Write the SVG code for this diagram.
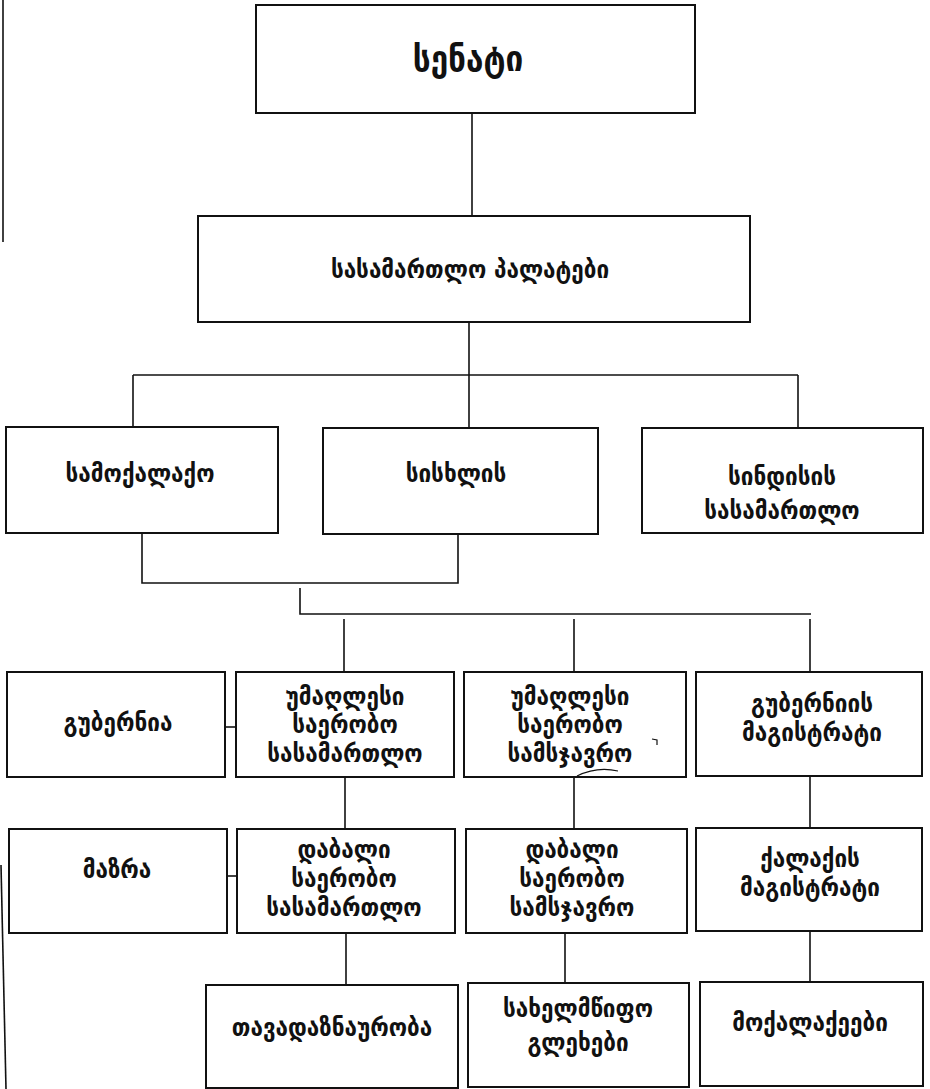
<svg xmlns="http://www.w3.org/2000/svg" width="930" height="1089" viewBox="0 0 930 1089">
<style>
.box{fill:#fff;stroke:#111;stroke-width:2}
.con{fill:none;stroke:#111;stroke-width:1.6}
.mark{fill:none;stroke:#111;stroke-width:1.2}
text{font-family:"DejaVu Sans Condensed","DejaVu Sans",sans-serif;fill:#111;text-anchor:middle;font-weight:bold}
.t1{font-size:35px}
.t2{font-size:25px}
.t3{font-size:25px}
</style>
<rect width="930" height="1089" fill="#fff"/>
<g id="page-edge" class="con">
<line x1="3" y1="0" x2="3" y2="242"/>
<line x1="1" y1="865" x2="6" y2="1089"/>
</g>
<g id="connectors" class="con">
<line x1="472" y1="113" x2="472" y2="216"/>
<line x1="469" y1="322" x2="469" y2="375"/>
<line x1="133" y1="375" x2="798" y2="375"/>
<line x1="133" y1="375" x2="133" y2="427"/>
<line x1="469" y1="375" x2="469" y2="428"/>
<line x1="798" y1="375" x2="798" y2="428"/>
<polyline points="142,533 142,583 458,583 458,534"/>
<polyline points="300,588 300,614 811,614"/>
<line x1="344" y1="619" x2="344" y2="672"/>
<line x1="574" y1="619" x2="574" y2="672"/>
<line x1="810" y1="619" x2="810" y2="672"/>
<line x1="225" y1="727" x2="236" y2="727"/>
<line x1="345" y1="777" x2="345" y2="829"/>
<line x1="574" y1="777" x2="574" y2="829"/>
<line x1="810" y1="776" x2="810" y2="828"/>
<line x1="227" y1="876" x2="237" y2="876"/>
<line x1="346" y1="933" x2="346" y2="985"/>
<line x1="565" y1="933" x2="565" y2="983"/>
<line x1="810" y1="931" x2="810" y2="982"/>
</g>
<g id="n-senati"><rect class="box" x="256" y="5" width="439" height="108"/><text class="t1" x="468" y="71">სენატი</text></g>
<g id="n-palatebi"><rect class="box" x="198" y="216" width="552" height="106"/><text class="t2" x="470" y="278">სასამართლო პალატები</text></g>
<g id="n-samoqalaqo"><rect class="box" x="6" y="427" width="272" height="106"/><text class="t3" x="140" y="482">სამოქალაქო</text></g>
<g id="n-sisxlis"><rect class="box" x="323" y="428" width="275" height="106"/><text class="t3" x="456" y="482">სისხლის</text></g>
<g id="n-sindisis"><rect class="box" x="642" y="428" width="281" height="105"/><text class="t3" x="782" y="485">სინდისის</text><text class="t3" x="782" y="519">სასამართლო</text></g>
<g id="n-gubernia"><rect class="box" x="7" y="672" width="218" height="105"/><text class="t3" x="118" y="731">გუბერნია</text></g>
<g id="n-umaglesi-sasamartlo"><rect class="box" x="236" y="672" width="218" height="105"/><text class="t3" x="345" y="705">უმაღლესი</text><text class="t3" x="345" y="733">საერობო</text><text class="t3" x="345" y="762">სასამართლო</text></g>
<g id="n-umaglesi-samsjavro"><rect class="box" x="464" y="672" width="222" height="105"/><text class="t3" x="570" y="705">უმაღლესი</text><text class="t3" x="570" y="733">საერობო</text><text class="t3" x="570" y="762">სამსჯავრო</text>
<path class="mark" d="M577,776 Q597,766 618,771"/><path class="mark" d="M652,739 L657,740 L657,745"/></g>
<g id="n-gubernii-magistrati"><rect class="box" x="696" y="672" width="226" height="104"/><text class="t3" x="812" y="712">გუბერნიის</text><text class="t3" x="812" y="741">მაგისტრატი</text></g>
<g id="n-mazra"><rect class="box" x="9" y="829" width="218" height="104"/><text class="t3" x="117" y="878">მაზრა</text></g>
<g id="n-dabali-sasamartlo"><rect class="box" x="237" y="829" width="218" height="104"/><text class="t3" x="344" y="858">დაბალი</text><text class="t3" x="344" y="887">საერობო</text><text class="t3" x="344" y="916">სასამართლო</text></g>
<g id="n-dabali-samsjavro"><rect class="box" x="466" y="829" width="221" height="104"/><text class="t3" x="572" y="858">დაბალი</text><text class="t3" x="572" y="887">საერობო</text><text class="t3" x="572" y="916">სამსჯავრო</text></g>
<g id="n-qalaqis-magistrati"><rect class="box" x="696" y="828" width="226" height="103"/><text class="t3" x="810" y="867">ქალაქის</text><text class="t3" x="810" y="896">მაგისტრატი</text></g>
<g id="n-tavadaznauroba"><rect class="box" x="206" y="985" width="252" height="103"/><text class="t3" x="332" y="1036">თავადაზნაურობა</text></g>
<g id="n-saxelmwifo-glexebi"><rect class="box" x="468" y="983" width="221" height="104"/><text class="t3" x="578" y="1017">სახელმწიფო</text><text class="t3" x="578" y="1051">გლეხები</text></g>
<g id="n-moqalaqeebi"><rect class="box" x="700" y="982" width="223" height="104"/><text class="t3" x="810" y="1031">მოქალაქეები</text></g>
</svg>
